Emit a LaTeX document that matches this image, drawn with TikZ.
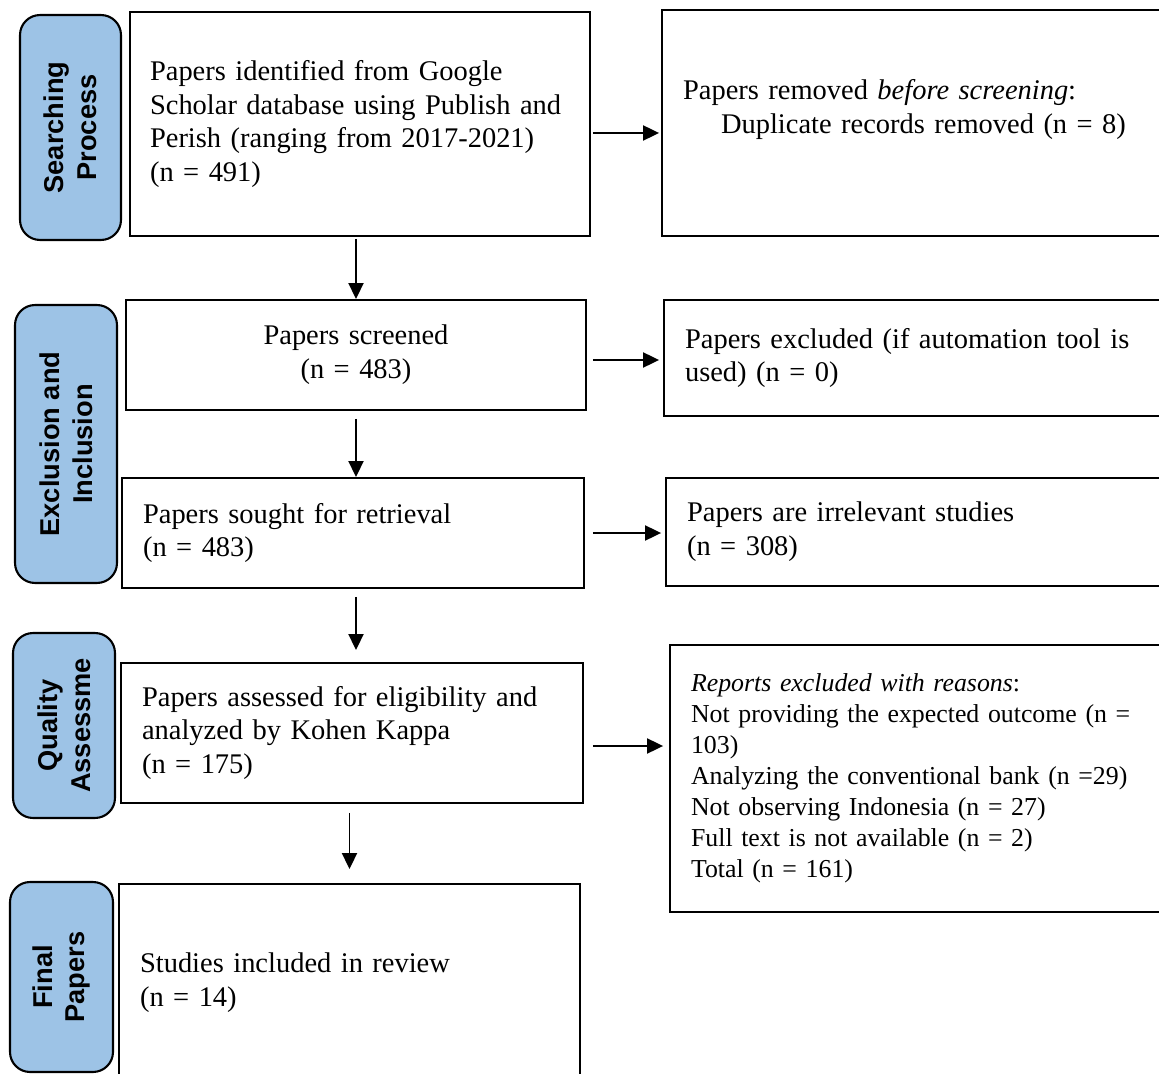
\documentclass[tikz,border=0pt]{standalone}
\usepackage{fontspec}
\setmainfont{Liberation Serif}
\newfontfamily\stagefont{Liberation Sans}
\usepackage{tikz}
\usetikzlibrary{arrows.meta}
\definecolor{stageblue}{RGB}{157,195,230}
\tikzstyle{stage} = [rectangle, rounded corners=0.4cm, rotate=90, align=center, draw=black, line width=1.2pt, fill=stageblue, font=\stagefont\bfseries\fontsize{15.5}{18.7}\selectfont]
\tikzstyle{process} = [rectangle, inner xsep=0.42cm, align=left, draw=black, line width=1.1pt, font=\fontsize{16.2}{19.3}\selectfont]
\tikzstyle{arrow} = [line width=1.1pt,->,>={Triangle[length=0.32cm,width=0.3cm]}]

\begin{document}
\begin{tikzpicture}[x=0.02cm, y=-0.02cm]
        \clip (0,0) rectangle (1159,1074);

        % Stages
        \node (s1) [stage, minimum width=4.5cm, minimum height=2.02cm] at (70.5,127.5) {Searching\\Process};
        \node (s2) [stage, minimum width=5.56cm, minimum height=2.04cm] at (66,444) {Exclusion and\\Inclusion};
        \node (s3) [stage, minimum width=3.7cm, minimum height=2.04cm] at (64,725.5) {Quality\\Assessme};
        \node (s4) [stage, minimum width=3.8cm, minimum height=2.06cm] at (61.5,977) {Final\\Papers};

        % Nodes
        \node (ident) [process, text width=8.4cm, inner xsep=0.4cm, minimum height=4.48cm] at (360,124) {Papers identified from Google\\ Scholar database using Publish and\\ Perish (ranging from 2017-2021)\\ (n = 491)};
        \node (removed) [process, text width=9.42cm, minimum height=4.52cm] at (918.5,123) {Papers removed \textit{before screening}:\\ \hspace*{0.76cm}Duplicate records removed (n = 8)\\ \mbox{}};
        \node (screen) [process, text width=8.36cm, minimum height=2.2cm, align=center] at (356,355) {Papers screened\\ (n = 483)};
        \node (auto) [process, text width=9.38cm, minimum height=2.32cm] at (919.5,358) {Papers excluded (if automation tool is\\ used) (n = 0)};
        \node (sought) [process, text width=8.4cm, minimum height=2.2cm] at (353,533) {Papers sought for retrieval\\ (n = 483)};
        \node (irrel) [process, text width=9.34cm, minimum height=2.16cm] at (920.5,532) {Papers are irrelevant studies\\ (n = 308)};
        \node (assess) [process, text width=8.4cm, minimum height=2.8cm] at (352,733) {Papers assessed for eligibility and\\ analyzed by Kohen Kappa\\ (n = 175)};
        \node (reasons) [process, text width=9.26cm, minimum height=5.34cm, font=\fontsize{14.7}{17.6}\selectfont] at (922.5,778.5) {\textit{Reports excluded with reasons}:\\ Not providing the expected outcome (n =\\ 103)\\ Analyzing the conventional bank (n =29)\\ Not observing Indonesia (n = 27)\\ Full text is not available (n = 2)\\ Total (n = 161)};
        \node (incl) [process, text width=8.38cm, minimum height=3.96cm] at (349.5,983) {Studies included in review\\ (n = 14)};

        % Arrows
        \draw [arrow, shorten <=0.04cm] (ident.south -| screen.north) -- (screen.north);
        \draw [arrow, shorten <=0.16cm] (screen.south) -- (screen.south |- sought.north);
        \draw [arrow, shorten <=0.16cm, shorten >=0.24cm] (sought.south -| screen.south) -- (screen.south |- assess.north);
        \draw [arrow, shorten <=0.18cm, shorten >=0.28cm] (assess.south -| incl.north) -- (incl.north);
        \draw [arrow, shorten <=0.04cm, shorten >=0.04cm] ([yshift=-0.18cm]ident.east) -- ([yshift=-0.18cm]ident.east -| removed.west);
        \draw [arrow, shorten <=0.12cm, shorten >=0.08cm] ([yshift=-0.1cm]screen.east) -- ([yshift=-0.1cm]screen.east -| auto.west);
        \draw [arrow, shorten <=0.16cm, shorten >=0.08cm] (sought.east) -- (sought.east -| irrel.west);
        \draw [arrow, shorten <=0.18cm, shorten >=0.12cm] ([yshift=-0.26cm]assess.east) -- ([yshift=-0.26cm]assess.east -| reasons.west);
\end{tikzpicture}
\end{document}
